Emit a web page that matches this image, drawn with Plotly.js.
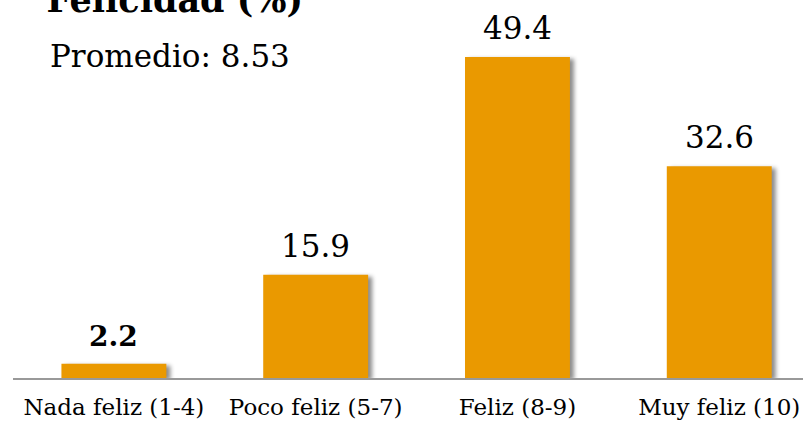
<!DOCTYPE html>
<html>
<head>
<meta charset="utf-8">
<script src="https://cdn.plot.ly/plotly-3.0.1.min.js"></script>
<style>
html,body{margin:0;padding:0;background:#fff;}
#chart{width:803px;height:432px;}
.barlayer .point path{filter:drop-shadow(4px 2px 2px rgba(0,0,0,0.45));}
</style>
</head>
<body>
<div id="chart"></div>
<script>
var categories = ["Nada feliz (1-4)", "Poco feliz (5-7)", "Feliz (8-9)", "Muy feliz (10)"];
var values = [2.2, 15.9, 49.4, 32.6];
var valueLabels = ["2.2", "15.9", "49.4", "32.6"];
var labelBold = [true, false, false, false];
var chartTitle = "Felicidad (%)";
var subtitle = "Promedio: 8.53";

var FONT = "DejaVu Serif, serif";
var barColor = "#EA9900";

var trace = {
  type: "bar",
  x: categories,
  y: values,
  marker: {color: barColor, line: {width: 0}},
  hoverinfo: "skip"
};

var annotations = categories.map(function (c, i) {
  return {
    x: c, y: values[i], xref: "x", yref: "y",
    text: labelBold[i] ? "<b>" + valueLabels[i] + "</b>" : valueLabels[i],
    showarrow: false, yanchor: "bottom", xanchor: "center", yshift: 9,
    font: {family: FONT, size: labelBold[i] ? 28 : 31, color: "#000"}
  };
});
annotations.push({
  x: 0.0443, y: 0.9, xref: "paper", yref: "paper",
  xanchor: "left", yanchor: "middle", showarrow: false,
  text: subtitle, font: {family: FONT, size: 31, color: "#000"}
});

var layout = {
  width: 803, height: 432,
  margin: {l: 13, r: 0, t: 20, b: 54},
  paper_bgcolor: "#fff", plot_bgcolor: "#fff",
  showlegend: false,
  bargap: 0.48,
  title: {
    text: "<b>" + chartTitle + "</b>",
    font: {family: FONT, size: 35, color: "#000"},
    xref: "container", yref: "container",
    x: 0.058, xanchor: "left", y: 1, yanchor: "middle"
  },
  xaxis: {
    type: "category",
    range: [-0.5, 3.415],
    showline: true, linecolor: "#999", linewidth: 2,
    ticks: "", showgrid: false, zeroline: false,
    ticklabelstandoff: 7,
    tickfont: {family: FONT, size: 23, color: "#000"},
    fixedrange: true
  },
  yaxis: {
    range: [0, 55.1],
    visible: false, showgrid: false, zeroline: false,
    fixedrange: true
  },
  annotations: annotations
};

Plotly.newPlot("chart", [trace], layout, {displayModeBar: false, staticPlot: true});
</script>
</body>
</html>
